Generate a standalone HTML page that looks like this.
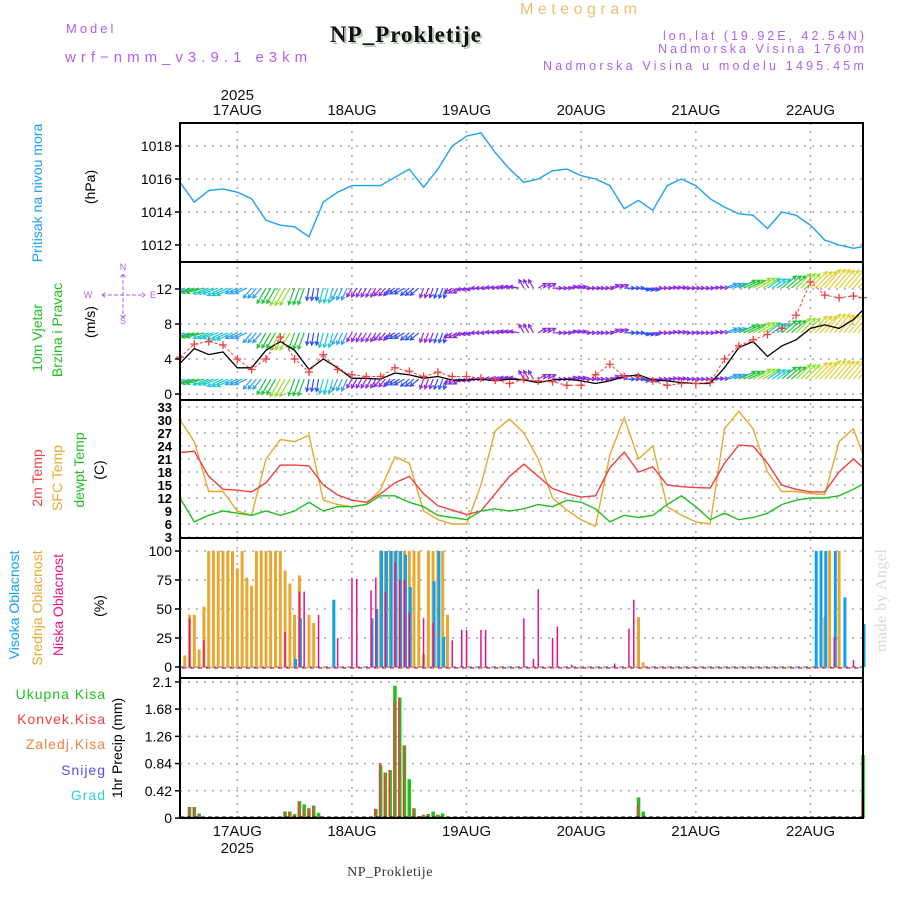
<!DOCTYPE html>
<html><head><meta charset="utf-8"><style>
html,body{margin:0;padding:0;background:#fff;}
svg{display:block;font-family:"Liberation Sans",sans-serif;}
</style></head><body>
<svg id="chart" width="900" height="900" viewBox="0 0 900 900" xmlns="http://www.w3.org/2000/svg">
<defs><clipPath id="windclip"><rect x="180" y="263" width="683" height="137"/></clipPath></defs>
<text x="66" y="33" font-size="13" fill="#b060f0" letter-spacing="3">Model</text>
<text x="65" y="62" font-size="15" fill="#b060f0" letter-spacing="5">wrf−nmm_v3.9.1 e3km</text>
<text x="332" y="44" font-family="Liberation Serif,serif" font-weight="bold" font-size="23" fill="#b8c8b8" letter-spacing="1">NP_Prokletije</text>
<text x="330" y="42" font-family="Liberation Serif,serif" font-weight="bold" font-size="23" fill="#111" letter-spacing="1">NP_Prokletije</text>
<text x="520" y="14" font-size="16" fill="#f0c070" letter-spacing="4.5">Meteogram</text>
<text x="867" y="40" font-size="12.5" fill="#b060f0" text-anchor="end" letter-spacing="3">lon,lat (19.92E, 42.54N)</text>
<text x="867" y="53" font-size="12.5" fill="#b060f0" text-anchor="end" letter-spacing="3">Nadmorska Visina 1760m</text>
<text x="867" y="70" font-size="12.5" fill="#b060f0" text-anchor="end" letter-spacing="3.2">Nadmorska Visina u modelu 1495.45m</text>
<text x="390" y="876" font-family="Liberation Serif,serif" font-size="14" fill="#333" text-anchor="middle" letter-spacing="0.5">NP_Prokletije</text>
<text transform="translate(886,652) rotate(-90)" font-family="Liberation Serif,serif" font-size="16" fill="#d0dcd0" letter-spacing="0.5">made by Angel</text>
<g id="layer"></g>
</svg>
<script>
// ---------- data ----------
const startHour = 0; // 16AUG 12Z
const dayLabels = ["17AUG","18AUG","19AUG","20AUG","21AUG","22AUG"];
const pressure = [1015.8,1014.6,1015.3,1015.4,1015.2,1014.8,1013.5,1013.2,1013.1,1012.5,1014.6,1015.2,1015.6,1015.6,1015.6,1016.1,1016.6,1015.5,1016.6,1018.0,1018.6,1018.8,1017.6,1016.6,1015.8,1016.0,1016.5,1016.6,1016.2,1016.0,1015.6,1014.2,1014.7,1014.1,1015.6,1016.0,1015.6,1014.8,1014.3,1013.9,1013.8,1013.0,1014.0,1013.8,1013.2,1012.3,1012.0,1011.8,1011.9];
const pressureTicks = [1012,1014,1016,1018];
const windSpeed = [3.5,5.2,4.5,4.8,3.0,3.0,5.0,6.0,5.0,2.8,4.0,3.0,1.8,1.8,1.7,2.4,2.2,1.8,2.0,1.6,1.6,1.7,1.5,1.7,1.6,1.3,1.6,1.7,1.5,1.2,1.5,2.0,2.2,1.6,1.5,1.3,1.2,1.2,3.0,5.3,6.0,4.3,5.5,6.2,7.5,7.9,7.5,8.5,9.6];
const windGust = [4.2,5.7,6.0,5.6,4.0,2.8,4.0,6.5,4.0,2.5,4.5,2.8,2.2,2.0,2.0,3.0,2.6,2.0,2.5,2.0,2.0,1.8,1.6,1.2,1.7,1.5,1.4,1.0,1.0,2.2,3.4,2.0,2.0,1.5,1.0,1.2,1.2,1.3,4.0,5.5,6.2,6.8,7.5,9.0,12.8,11.3,11.0,11.2,11.0];
const windDir = [70,75,70,65,65,40,30,30,20,10,15,25,30,30,40,60,50,20,20,60,80,90,95,100,150,240,270,260,270,270,250,270,280,270,265,270,270,265,250,245,240,235,230,225,225,220,220,220,220];
const windTicks = [0,4,8,12];
const temp2m = [22.5,22.8,17.0,14.0,13.8,13.4,15.5,19.6,19.6,19.4,15.0,12.7,11.5,11.0,13.0,15.5,17.0,13.0,10.2,9.2,8.2,9.0,13.0,17.0,19.8,17.0,14.2,13.0,12.2,12.5,19.0,22.6,18.0,19.2,15.0,14.6,14.4,14.3,20.0,24.2,24.0,20.0,15.0,14.0,13.4,13.4,18.0,21.0,19.0];
const tempSfc = [30,25,13.5,13.5,9.0,8.0,21.0,25.5,25.0,26.5,11.5,10.5,10.0,10.5,14.0,21.5,20.0,9.0,7.0,6.0,6.0,15.0,27.5,30.2,27.0,21.0,12.0,9.2,7.0,5.5,22.0,30.5,21.0,24.0,10.0,8.0,6.5,6.0,28.0,32.0,28.0,18.0,13.5,13.5,13.0,12.8,25.0,28.0,22.0];
const tempDew = [12.0,6.5,8.0,9.0,8.5,8.0,9.0,8.0,9.0,11.0,9.0,10.0,10.0,10.5,12.5,12.5,11.0,10.0,8.0,7.5,7.0,9.0,9.5,9.0,9.5,10.5,10.0,11.5,11.0,9.5,6.5,8.0,7.5,8.0,10.5,12.5,10.0,7.0,8.5,7.0,7.5,8.5,10.5,11.5,12.0,12.0,12.5,14.0,15.2];
const tempTicks = [3,6,9,12,15,18,21,24,27,30,33];
const midHours = [1,2,3,4,5,6,7,8,9,10,11,12,13,14,15,16,17,18,19,20,21,22,23,24,25,27,28,42,43,44,45,46,47,48,49,50,51,52,53,54,55,56,96,97,135,136,138];
const midVals  = [10,45,45,15,52,100,100,100,100,100,100,85,100,77,70,100,100,100,100,100,100,83,72,45,79,45,38,100,100,100,100,100,100,100,100,100,11,100,100,100,100,45,43,4,43,100,100];
const highHours = [24,25,32,40,41,42,43,44,45,46,47,48,53,54,55,133,134,135,137,139,143];
const highVals  = [7,42,58,42,50,100,100,100,100,100,97,69,74,100,26,100,100,100,100,60,37];
const lowHours = [2,5,22,25,26,29,33,36,37,40,41,43,45,46,47,48,51,53,57,59,60,63,64,72,74,75,78,79,82,91,94,95,137,141];
const lowVals  = [42,23,30,65,65,45,25,77,76,66,77,65,90,75,75,47,42,38,23,32,32,32,32,42,7,67,25,35,2,3,33,58,26,6];
const cloudTicks = [0,25,50,75,100];
const precipHours = [1,2,3,4,22,23,24,25,26,27,28,29,41,42,43,44,45,46,47,48,49,50,51,52,53,54,55,73,96,97,137,143];
const precipTotal = [0.02,0.17,0.17,0.07,0.1,0.1,0.06,0.26,0.21,0.15,0.19,0.08,0.14,0.82,0.7,0.74,2.04,1.86,1.12,0.6,0.15,0.03,0.05,0.06,0.1,0.05,0.07,0.02,0.32,0.1,0.03,0.97];
const precipConv  = [0.02,0.17,0.17,0.07,0.1,0.1,0.06,0.26,0.15,0.15,0.19,0.0,0.14,0.85,0.7,0.74,1.8,1.86,1.12,0.0,0.15,0.03,0.05,0.06,0.0,0.05,0.0,0.0,0.22,0.0,0.0,0.3];
const precipTicks = [0,0.42,0.84,1.26,1.68,2.1];
const precipTickLabels = ["0","0.42","0.84","1.26","1.68","2.1"];

// ---------- layout ----------
const X0 = 180, X1 = 863, HOURS = 143;
const xH = h => X0 + (h - startHour) * (X1 - X0) / HOURS;
const x3 = i => xH(i * 3 > HOURS ? HOURS : i * 3);
const panels = [
  {name:'pressure', top:123, bot:262},
  {name:'wind', top:262, bot:400},
  {name:'temperature', top:400, bot:538},
  {name:'cloud', top:538, bot:678},
  {name:'precip', top:678, bot:818}
];
const yP = v => 245 - (v - 1012) * 16.5;
const yW = v => 394 - v * 8.75;
const yT = v => 537 - (v - 3) * 4.333;
const yC = v => 667 - v * 1.16;
const yR = v => 818 - v * 64.8;

const NS = 'http://www.w3.org/2000/svg';
const layer = document.getElementById('layer');
function mk(tag, attrs, parent) {
  const e = document.createElementNS(NS, tag);
  for (const k in attrs) e.setAttribute(k, attrs[k]);
  (parent || layer).appendChild(e);
  return e;
}
function txt(s, attrs, parent) { const e = mk('text', attrs, parent); e.textContent = s; return e; }

// grids
const dayX = dayLabels.map((d, k) => xH(12 + 24 * k));
dayX.forEach((x, k) => {
  const g = mk('line', {x1:x, x2:x, y1:123, y2:818, stroke:'#aaa', 'stroke-width':1.5, 'stroke-dasharray':'2,6'});
  
  
});
function hgrid(ys, name) {
  ys.forEach(y => {
    const l = mk('line', {x1:X0, x2:X1, y1:y, y2:y, stroke:'#aaa', 'stroke-width':1.5, 'stroke-dasharray':'2,6'});
    
    
  });
}
function yticks(vals, fy, labels, name) {
  vals.forEach((v, i) => {
    const y = fy(v);
    const t = mk('line', {x1:X0-5, x2:X0, y1:y, y2:y, stroke:'#000', 'stroke-width':1.5});
    
    
    const l = txt(labels ? labels[i] : String(v), {x:X0-8, y:y+5, 'font-size':14, 'text-anchor':'end', fill:'#000'});
    
    
  });
}
hgrid(pressureTicks.map(yP), 'pressure'); yticks(pressureTicks, yP, null, 'pressure');
hgrid(windTicks.map(yW), 'wind'); yticks(windTicks, yW, null, 'wind');
hgrid(tempTicks.map(yT), 'temp');
tempTicks.forEach(v => {
  const y = yT(v);
  const l = txt(String(v), {x:X0-8, y:y+5, 'font-size':13, 'text-anchor':'end', fill:'#000', 'font-weight':'bold'});
  
  
});
hgrid(cloudTicks.map(yC), 'cloud'); yticks(cloudTicks, yC, null, 'cloud');
hgrid(precipTicks.map(yR), 'precip'); yticks(precipTicks, yR, precipTickLabels, 'precip');

// date labels
dayLabels.forEach((d, k) => {
  const a = txt(d, {x:dayX[k], y:115, 'font-size':15, 'text-anchor':'middle', fill:'#111'});
  
  
  const b = txt(d, {x:dayX[k], y:836, 'font-size':15, 'text-anchor':'middle', fill:'#111'});
  
  
});
const yr1 = txt('2025', {x:dayX[0], y:100, 'font-size':15, 'text-anchor':'middle', fill:'#111'});


const yr2 = txt('2025', {x:dayX[0], y:853, 'font-size':15, 'text-anchor':'middle', fill:'#111'});



function line(arr, fy, color, name, w) {
  const p = arr.map((v, i) => x3(i).toFixed(1) + ',' + fy(v).toFixed(1)).join(' ');
  const e = mk('polyline', {points:p, fill:'none', stroke:color, 'stroke-width':w || 1.4});
  
  
  return e;
}
// pressure
line(pressure, yP, '#1ea0f5', 'pressure-line');

// wind
function speedColor(s) {
  if (s < 2) return '#8a2be2';
  if (s < 3) return '#3050f0';
  if (s < 4) return '#30a0f0';
  if (s < 5) return '#20c8d0';
  if (s < 6) return '#20c040';
  if (s < 7.5) return '#90e030';
  if (s < 9) return '#e0d030';
  return '#f09030';
}
const wg = mk('g', {'clip-path':'url(#windclip)'});


const rows = [12.1, 7.0, 1.7];
windDir.forEach((d, i) => {
  const s = windSpeed[i];
  const r = d * Math.PI / 180;
  const dx = -Math.sin(r), dy = Math.cos(r);
  const L = 6 + s * 2.3;
  const col = speedColor(s);
  [0, 1, 2].forEach(o => {
    const xb = x3(i) + o * 4.78;
    if (xb > X1) return;
    rows.forEach(rv => {
      const yb = yW(rv);
      const xs = xb, ys = yb;
      const xe = xb + dx * L, ye = yb + dy * L;
      const a1 = r + 0.5, a2 = r - 0.5;
      const hx1 = xe + Math.sin(a1) * 4, hy1 = ye - Math.cos(a1) * 4;
      const hx2 = xe + Math.sin(a2) * 4, hy2 = ye - Math.cos(a2) * 4;
      const ar = mk('path', {d:`M${xs.toFixed(1)},${ys.toFixed(1)}L${xe.toFixed(1)},${ye.toFixed(1)}M${hx1.toFixed(1)},${hy1.toFixed(1)}L${xe.toFixed(1)},${ye.toFixed(1)}L${hx2.toFixed(1)},${hy2.toFixed(1)}`, stroke:col, 'stroke-width':1.2, fill:'none'}, wg);
      
      
    });
  });
});
line(windSpeed, yW, '#000', 'wind-speed-line', 1.3);
const gl = line(windGust, yW, '#f04040', 'wind-gust-line', 1);
gl.setAttribute('stroke-dasharray', '3,2');
windGust.forEach((v, i) => {
  const x = x3(i), y = yW(v);
  const m = mk('path', {d:`M${x-4},${y}H${x+4}M${x},${y-4}V${y+4}`, stroke:'#f04040', 'stroke-width':1.3});
  
  
});

// temperatures
line(tempSfc, yT, '#e8a830', 'sfc-temp-line');
line(temp2m, yT, '#f04040', 't2m-line');
line(tempDew, yT, '#20c020', 'dewpoint-line');

// clouds
[['#10a0f0', 0.5], ['#e8a830', 0], ['#e8108a', 0.5]].forEach((c, k) => {
  const b = mk('line', {x1:X0, x2:X1, y1:yC(0)+k*0.5, y2:yC(0)+k*0.5, stroke:c[0], 'stroke-width':1.2, 'stroke-dasharray':'4,4', 'stroke-dashoffset':k*3});
  
  
});
function bars(hours, vals, fy, color, w, off, name) {
  hours.forEach((h, i) => {
    const x = xH(h) + off;
    const y = fy(vals[i]);
    const r = mk('rect', {x:(x - w/2).toFixed(1), y:y.toFixed(1), width:w, height:Math.max(0, fy(0) - y).toFixed(1), fill:color});
    
    
  });
}
bars(midHours, midVals, yC, '#e8a830', 3, 0, 'mid-cloud-bar');
bars(highHours, highVals, yC, '#10a0f0', 3, 1, 'high-cloud-bar');
bars(lowHours, lowVals, yC, '#e8108a', 1.5, 0, 'low-cloud-bar');

// precipitation
bars(precipHours, precipTotal, yR, '#20c020', 3.5, 0, 'total-precip-bar');
bars(precipHours, precipConv, yR, '#f04040', 1.8, -0.8, 'convective-precip-bar');
const zl = mk('line', {x1:X0, x2:X1, y1:817, y2:817, stroke:'#000', 'stroke-width':1, 'stroke-dasharray':'4,3'});



// panel frames
panels.forEach(p => {
  const r = mk('rect', {x:X0, y:p.top, width:X1-X0, height:p.bot-p.top, fill:'none', stroke:'#000', 'stroke-width':2});
  
  
});

// left axis titles
function vlabel(s, x, y, color, name, size) {
  const t = txt(s, {transform:`translate(${x},${y}) rotate(-90)`, 'font-size':size || 14, 'text-anchor':'middle', fill:color});
  
  
}
vlabel('Pritisak na nivou mora', 42, 193, '#1ea0f5', 'pressure-title');
vlabel('(hPa)', 95, 187, '#000', 'pressure-unit');
vlabel('10m Vjetar', 42, 338, '#20c020', 'wind-title');
vlabel('Brzina i Pravac', 62, 330, '#20c020', 'wind-subtitle');
vlabel('(m/s)', 95, 322, '#000', 'wind-unit');
vlabel('2m Temp', 42, 478, '#f04040', 't2m-title');
vlabel('SFC Temp', 62, 478, '#e8a830', 'sfc-temp-title');
vlabel('dewpt Temp', 84, 470, '#20c020', 'dewpoint-title');
vlabel('(C)', 104, 470, '#000', 'temp-unit');
vlabel('Visoka Oblacnost', 19, 605, '#10a0f0', 'high-cloud-title');
vlabel('Srednja Oblacnost', 42, 608, '#e8a830', 'mid-cloud-title');
vlabel('Niska Oblacnost', 63, 605, '#e8108a', 'low-cloud-title');
vlabel('(%)', 104, 606, '#000', 'cloud-unit');
vlabel('1hr Precip (mm)', 122, 748, '#000', 'precip-unit');
[['Ukupna Kisa','#20c020',699],['Konvek.Kisa','#f04040',724],['Zaledj.Kisa','#f08040',749],['Snijeg','#5050f0',775],['Grad','#30d0d0',800]].forEach(a => {
  const t = txt(a[0], {x:106, y:a[2], 'font-size':14, 'text-anchor':'end', fill:a[1], 'letter-spacing':1});
  
  
});
// compass
const cg = mk('g', {fill:'#b060f0', 'font-size':9, stroke:'none'});


[['N',123,270],['S',123,324],['W',88,298],['E',153,298]].forEach(a => {
  const t = txt(a[0], {x:a[1], y:a[2], 'text-anchor':'middle'}, cg);
  
  
});
const cx = mk('path', {d:'M102,295H145M123,274V318M102,295l4,-3M102,295l4,3M145,295l-4,-3M145,295l-4,3M123,274l-3,4M123,274l3,4M123,318l-3,-4M123,318l3,-4', stroke:'#b060f0', 'stroke-width':1, 'stroke-dasharray':'4,2', fill:'none'}, cg);


</script>
</body></html>
